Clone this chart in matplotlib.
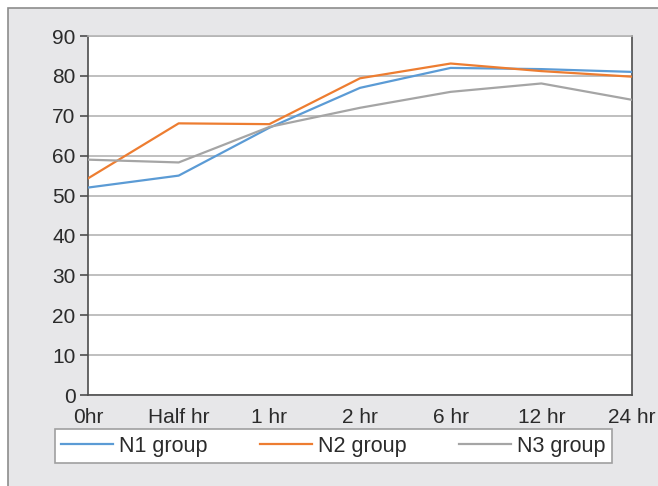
import matplotlib.pyplot as plt
from matplotlib.patches import Rectangle

plt.rcParams['font.family'] = ['Liberation Sans', 'DejaVu Sans']

times = ['0hr', 'Half hr', '1 hr', '2 hr', '6 hr', '12 hr', '24 hr']
n1 = [52, 55, 67, 77, 82, 81.7, 81]
n2 = [54.3, 68.1, 67.9, 79.4, 83.1, 81.2, 79.8]
n3 = [59, 58.3, 67.2, 72, 76, 78.1, 74]

fig = plt.figure(figsize=(6.58, 4.86), dpi=100, facecolor='white')

# grey panel with thin frame behind the chart
fig.patches.append(Rectangle((7.5 / 658, -0.1), 1.2, (486 - 7.5) / 486 + 0.1,
                             transform=fig.transFigure, facecolor='#e7e7e9',
                             edgecolor='#8c8c8c', lw=1.2, zorder=-5))

ax = fig.add_axes([88 / 658, 91 / 486, 544 / 658, 359 / 486])
ax.set_facecolor('white')

x = list(range(len(times)))
ax.plot(x, n1, color='#5b9bd5', lw=1.6, label='N1 group', zorder=3)
ax.plot(x, n2, color='#ed7d31', lw=1.6, label='N2 group', zorder=3)
ax.plot(x, n3, color='#a5a5a5', lw=1.6, label='N3 group', zorder=3)

ax.set_xlim(0, len(times) - 1)
ax.set_ylim(0, 90)
ax.set_yticks(range(0, 91, 10))
ax.set_xticks(x)
ax.set_xticklabels(times)

ax.yaxis.grid(True, color='#b4b4b4', lw=1.2)
ax.set_axisbelow(True)
for side in ['left', 'bottom', 'right']:
    ax.spines[side].set_color('#4d4d4d')
    ax.spines[side].set_linewidth(1.2)
ax.spines['top'].set_color('#b4b4b4')
ax.spines['top'].set_linewidth(1.2)

ax.tick_params(axis='y', direction='out', length=6, width=1.2, color='#4d4d4d',
               labelsize=15, labelcolor='#2b2b2b', pad=3)
ax.tick_params(axis='x', length=0, labelsize=15, labelcolor='#2b2b2b', pad=9)

leg = fig.legend(loc='lower left', ncol=3, mode='expand',
                 bbox_to_anchor=(55 / 658, 23 / 486, 557 / 658, 35 / 486),
                 fontsize=15.5, frameon=True, fancybox=False, framealpha=1,
                 handlelength=2.4, handletextpad=0.28, borderaxespad=0,
                 borderpad=0.3)
leg.get_frame().set_edgecolor('#a0a0a0')
leg.get_frame().set_linewidth(1.2)
for t in leg.get_texts():
    t.set_color('#2b2b2b')

fig.savefig('out.png', dpi=100)
